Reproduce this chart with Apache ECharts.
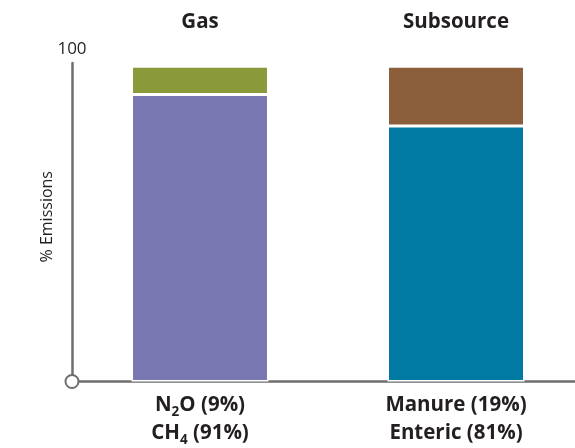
<!DOCTYPE html>
<html>
<head>
<meta charset="utf-8">
<script src="https://cdn.jsdelivr.net/npm/echarts@6/dist/echarts.min.js"></script>
<style>
html,body{margin:0;padding:0;background:#fff;}
#chart{width:575px;height:448px;}
</style>
</head>
<body>
<div id="chart"></div>
<script>
// Data
const categories = ['Gas', 'Subsource'];
const bottomNames = ['{b|CH}{sub|4}{b| (91%)}', '{b|Enteric (81%)}'];
const topNames = ['{b|N}{sub|2}{b|O (9%)}', '{b|Manure (19%)}'];
const bottomValues = [91, 81];
const topValues = [9, 19];
const bottomColors = ['#7a78b3', '#0079a3'];
const topColors = ['#8a9a3b', '#8b5e3c'];

const FONT = '"Open Sans", sans-serif';
const TEXT = '#231f20';
const AXIS = '#6d6e71';

const chart = echarts.init(document.getElementById('chart'), null, {renderer: 'canvas'});

const richStyles = {
  b: {fontFamily: FONT, fontSize: 20.5, fontWeight: 'bold', color: TEXT, lineHeight: 28.5},
  sub: {fontFamily: FONT, fontSize: 13.5, fontWeight: 'bold', color: TEXT, lineHeight: 14, verticalAlign: 'bottom'}
};

const option = {
  animation: false,
  grid: {left: 72, width: 512, top: 63, bottom: 66.5, containLabel: false, outerBoundsMode: 'none'},
  xAxis: [
    {
      type: 'category', data: categories, position: 'bottom',
      axisLine: {show: true, lineStyle: {color: AXIS, width: 2.5}},
      axisTick: {show: false},
      axisLabel: {
        margin: 9,
        formatter: function (v, i) { return topNames[i] + '\n' + bottomNames[i]; },
        rich: richStyles
      }
    },
    {
      type: 'category', data: categories, position: 'top',
      axisLine: {show: false}, axisTick: {show: false},
      axisLabel: {margin: 30, fontFamily: FONT, fontSize: 20.5, fontWeight: 'bold', color: TEXT}
    }
  ],
  yAxis: [
    {
      type: 'value', min: 0, max: 101,
      axisLine: {show: true, lineStyle: {color: AXIS, width: 2.5}},
      axisTick: {show: false}, axisLabel: {show: false}, splitLine: {show: false},
      name: '% Emissions', nameLocation: 'middle', nameGap: 17,
      nameTextStyle: {fontFamily: FONT, fontSize: 16, color: TEXT, padding: [0, 0, 0, 11]}
    },
    {
      type: 'value', min: 0, max: 101, position: 'left',
      axisLine: {show: false}, axisTick: {show: false}, axisLabel: {show: false}, splitLine: {show: false},
      name: '100', nameLocation: 'end', nameGap: 5,
      nameTextStyle: {fontFamily: FONT, fontSize: 17, color: TEXT, align: 'center'}
    }
  ],
  series: [
    {
      type: 'bar', stack: 's', barWidth: 137,
      data: bottomValues.map((v, i) => ({value: v, itemStyle: {color: bottomColors[i]}})),
      itemStyle: {borderColor: '#fff', borderWidth: 1.5}
    },
    {
      type: 'bar', stack: 's', barWidth: 137,
      data: topValues.map((v, i) => ({value: v, itemStyle: {color: topColors[i]}})),
      itemStyle: {borderColor: '#fff', borderWidth: 1.5}
    }
  ]
};
chart.setOption(option);

// origin circle at (axis x, value 0)
const y0 = chart.convertToPixel({yAxisIndex: 0}, 0);
const x0 = 72;
chart.setOption({
  graphic: [{
    type: 'circle', shape: {cx: x0, cy: y0, r: 6.5},
    style: {fill: '#fff', stroke: AXIS, lineWidth: 2}, z: 100
  }]
});
</script>
</body>
</html>
